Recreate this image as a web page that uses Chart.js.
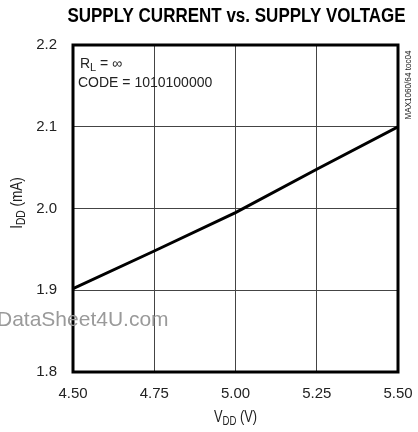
<!DOCTYPE html>
<html>
<head>
<meta charset="utf-8">
<script src="https://cdn.jsdelivr.net/npm/chart.js@4"></script>
<style>
  html, body { margin: 0; padding: 0; background: #fff; }
  #wrap { width: 418px; height: 432px; position: relative; }
</style>
</head>
<body>
<div id="wrap"><canvas id="supplyChart" width="418" height="432"></canvas></div>
<script>
// chart data
const supplyVoltage = [4.5, 4.75, 5.0, 5.25, 5.5];
const supplyCurrent = [1.902, 1.948, 1.995, 2.048, 2.1];
const xTicks = [4.5, 4.75, 5.0, 5.25, 5.5];
const yTicks = [1.8, 1.9, 2.0, 2.1, 2.2];

const sans = '"Liberation Sans", Arial, sans-serif';

// draw text squeezed horizontally, centred at x
function narrowText(ctx, text, x, y, font, sx) {
  ctx.save();
  ctx.font = font;
  ctx.textAlign = 'center';
  ctx.textBaseline = 'alphabetic';
  ctx.translate(x, y);
  ctx.scale(sx, 1);
  ctx.fillText(text, 0, 0);
  ctx.restore();
}

// text with a subscript part: [main, sub, rest], centred at x, squeezed by sx
function subText(ctx, parts, x, y, size, sx) {
  ctx.save();
  ctx.translate(x, y);
  ctx.scale(sx, 1);
  ctx.textAlign = 'left';
  ctx.textBaseline = 'alphabetic';
  ctx.font = size + 'px ' + sans;
  let w1 = ctx.measureText(parts[0]).width;
  let w3 = ctx.measureText(parts[2]).width;
  ctx.font = (size * 0.75) + 'px ' + sans;
  let w2 = ctx.measureText(parts[1]).width;
  let start = -(w1 + w2 + w3) / 2;
  ctx.font = size + 'px ' + sans;
  ctx.fillText(parts[0], start, 0);
  ctx.font = (size * 0.75) + 'px ' + sans;
  ctx.fillText(parts[1], start + w1, size * 0.2);
  ctx.font = size + 'px ' + sans;
  ctx.fillText(parts[2], start + w1 + w2, 0);
  ctx.restore();
}

// extra drawing: frame, title, axis titles, notes
const decorations = {
  id: 'decorations',
  afterDraw(chart) {
    const ctx = chart.ctx;
    const a = chart.chartArea;
    const midX = (a.left + a.right) / 2;
    ctx.save();
    ctx.strokeStyle = '#000';
    ctx.lineWidth = 3;
    ctx.strokeRect(a.left, a.top, a.right - a.left, a.bottom - a.top);

    ctx.fillStyle = '#000';
    narrowText(ctx, 'SUPPLY CURRENT vs. SUPPLY VOLTAGE', midX + 1, 22, 'bold 20px ' + sans, 0.85);

    ctx.fillStyle = '#222';
    subText(ctx, ['V', 'DD', ' (V)'], midX, 422, 16, 0.8);

    ctx.save();
    ctx.translate(22, 203);
    ctx.rotate(-Math.PI / 2);
    subText(ctx, ['I', 'DD', ' (mA)'], 0, 0, 16, 0.85);
    ctx.restore();

    // condition notes
    ctx.textAlign = 'left';
    ctx.font = '14px ' + sans;
    ctx.fillText('R', a.left + 7, 68);
    let wr = ctx.measureText('R').width;
    ctx.font = '11px ' + sans;
    ctx.fillText('L', a.left + 7 + wr, 71);
    ctx.font = '14px ' + sans;
    ctx.fillText(' = \u221e', a.left + 7 + wr + 6, 68);
    ctx.fillText('CODE = 1010100000', a.left + 5, 87);

    ctx.save();
    ctx.translate(a.right + 10, a.top + 40);
    ctx.rotate(-Math.PI / 2);
    narrowText(ctx, 'MAX1060/64 toc04', 0, 3, '9px ' + sans, 0.9);
    ctx.restore();

    // watermark
    ctx.fillStyle = '#9a9a9a';
    ctx.font = '21px ' + sans;
    ctx.textAlign = 'left';
    ctx.fillText('DataSheet4U.com', -3, 326);
    ctx.restore();
  }
};

const data = {
  datasets: [{
    data: supplyVoltage.map((v, i) => ({ x: v, y: supplyCurrent[i] })),
    borderColor: '#000',
    borderWidth: 3,
    pointRadius: 0,
    showLine: true,
    tension: 0,
  }]
};

const config = {
  type: 'scatter',
  data,
  options: {
    responsive: false,
    animation: false,
    layout: { padding: { top: 45, right: 20, left: 0, bottom: 0 } },
    plugins: { legend: { display: false }, tooltip: { enabled: false } },
    scales: {
      x: {
        type: 'linear',
        min: 4.5,
        max: 5.5,
        afterBuildTicks: (s) => { s.ticks = xTicks.map(v => ({ value: v })); },
        afterFit: (s) => { s.height = 60; s.paddingLeft = 0; s.paddingRight = 0; },
        grid: { color: '#444', lineWidth: 1, drawTicks: false },
        border: { display: false },
        ticks: {
          color: '#222',
          padding: 13,
          font: { family: sans, size: 15 },
          callback: (v) => Number(v).toFixed(2),
        },
      },
      y: {
        type: 'linear',
        min: 1.8,
        max: 2.2,
        afterBuildTicks: (s) => { s.ticks = yTicks.map(v => ({ value: v })); },
        afterFit: (s) => { s.width = 73; },
        grid: { color: '#444', lineWidth: 1, drawTicks: false },
        border: { display: false },
        ticks: {
          color: '#222',
          padding: 16,
          font: { family: sans, size: 15 },
          callback: (v) => Number(v).toFixed(1),
        },
      },
    },
  },
  plugins: [decorations],
};

new Chart(document.getElementById('supplyChart'), config);
</script>
</body>
</html>
